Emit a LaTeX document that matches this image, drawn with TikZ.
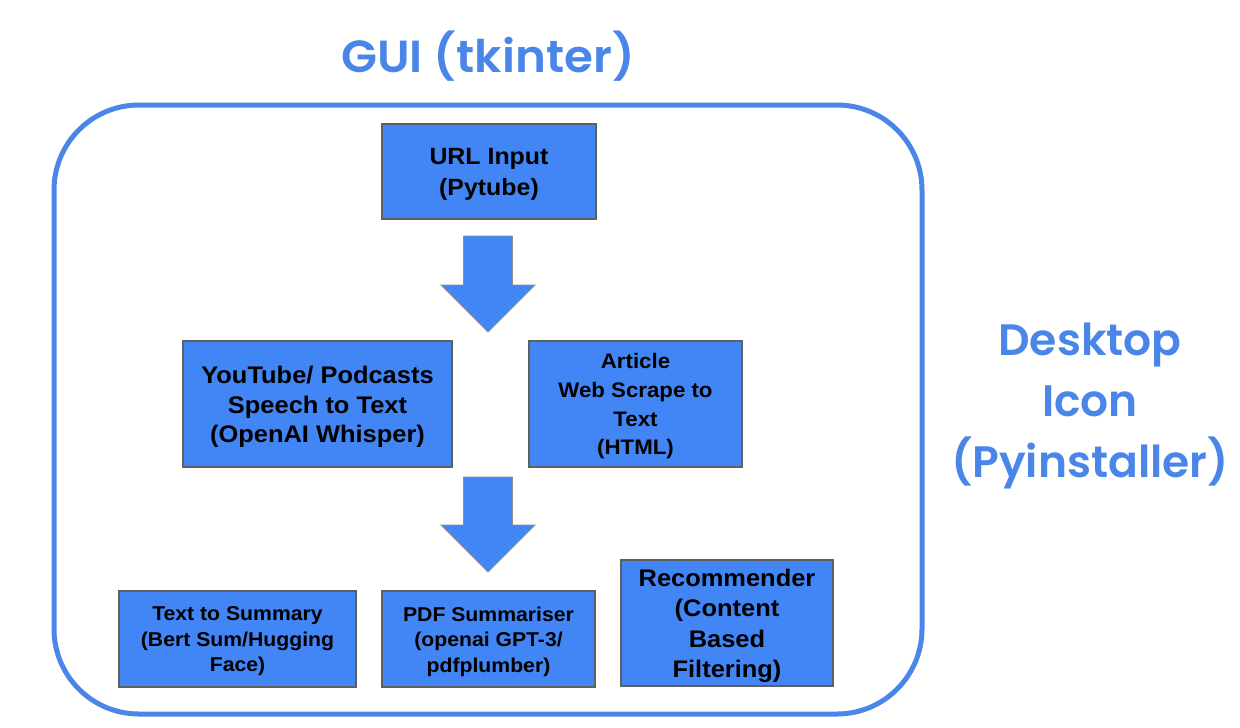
\documentclass[tikz,border=0pt]{standalone}
\usepackage{fontspec}
\setmainfont{Liberation Sans}[FakeStretch=1.06]
\newfontfamily\popfont{Poppins SemiBold}[FakeStretch=1.04]
\newfontfamily\popplain{Poppins SemiBold}
\definecolor{boxblue}{HTML}{4285F4}
\definecolor{titleblue}{HTML}{4A86E8}
\definecolor{edgegray}{HTML}{5F5F5F}
\tikzset{
  stepbox/.style={rectangle, draw=edgegray, line width=2pt, fill=boxblue, align=center, inner sep=0pt, font=\bfseries},
  blockarrow/.style={fill=boxblue, draw=edgegray!70, line width=0.8pt},
  titletext/.style={text=titleblue, align=center, inner sep=0pt}
}
\begin{document}
\begin{tikzpicture}[x=1pt,y=-1pt]
\useasboundingbox (0,0) rectangle (1240,728);
% frame
\draw[titleblue, line width=5pt, rounded corners=85pt] (54,105) rectangle (922,714);
% titles
\node[titletext, font=\popfont\fontsize{45}{52}\selectfont] (gui) at (488,56) {GUI (tkinter)};
\node[titletext, font=\popplain\fontsize{44}{61}\selectfont] (desk) at (1090,406) {Desktop\\Icon\\(Pyinstaller)};
% boxes
\node[stepbox, minimum width=214pt, minimum height=95pt] (url) at (489,171.5) {};
\node[align=center, inner sep=0pt, font=\bfseries\fontsize{23.5}{31}\selectfont] (urlt) at (489,174) {URL Input\\(Pytube)};
\node[stepbox, minimum width=269pt, minimum height=126pt] (yt) at (317.5,404) {};
\node[align=center, inner sep=0pt, font=\bfseries\fontsize{24}{29.5}\selectfont] (ytt) at (317.5,407) {YouTube/ Podcasts\\Speech to Text\\(OpenAI Whisper)};
\node[stepbox, minimum width=213pt, minimum height=126pt] (art) at (635.5,404) {};
\node[align=center, inner sep=0pt, font=\bfseries\fontsize{21}{28.7}\selectfont] (artt) at (635.5,406.5) {Article\\Web Scrape to\\Text\\(HTML)};
\node[stepbox, minimum width=237pt, minimum height=96pt] (sum) at (237.5,638.5) {};
\node[align=center, inner sep=0pt, font=\bfseries\fontsize{20}{25.5}\selectfont] (sumt) at (237.5,641.5) {Text to Summary\\(Bert Sum/Hugging\\Face)};
\node[stepbox, minimum width=213pt, minimum height=96pt] (pdf) at (488.5,638.5) {};
\node[align=center, inner sep=0pt, font=\bfseries\fontsize{20}{25.5}\selectfont] (pdft) at (488.5,641.5) {PDF Summariser\\(openai GPT-3/\\pdfplumber)};
\node[stepbox, minimum width=212pt, minimum height=126pt] (rec) at (727,623) {};
\node[align=center, inner sep=0pt, font=\bfseries\fontsize{24}{30.5}\selectfont] (rect) at (727,626) {Recommender\\(Content\\Based\\Filtering)};
% block arrows
\coordinate (a1) at (488,236);
\coordinate (a2) at (488,477);
\draw[blockarrow] ([xshift=-24.5pt]a1) -- ([xshift=24.5pt]a1) -- ([xshift=24.5pt,yshift=-49pt]a1) -- ([xshift=47pt,yshift=-49pt]a1) -- ([yshift=-96pt]a1) -- ([xshift=-47pt,yshift=-49pt]a1) -- ([xshift=-24.5pt,yshift=-49pt]a1) -- cycle;
\draw[blockarrow] ([xshift=-24.5pt]a2) -- ([xshift=24.5pt]a2) -- ([xshift=24.5pt,yshift=-48pt]a2) -- ([xshift=47pt,yshift=-48pt]a2) -- ([yshift=-95pt]a2) -- ([xshift=-47pt,yshift=-48pt]a2) -- ([xshift=-24.5pt,yshift=-48pt]a2) -- cycle;
\end{tikzpicture}
\end{document}
